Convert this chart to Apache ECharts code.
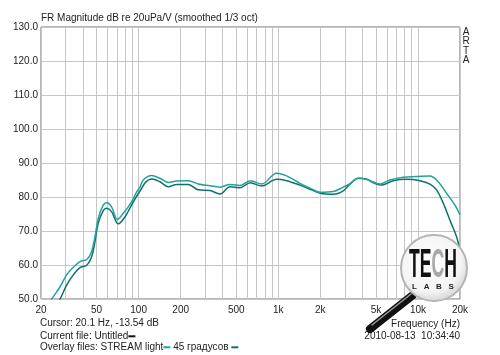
<!DOCTYPE html>
<html><head><meta charset="utf-8">
<script src="https://cdn.jsdelivr.net/npm/echarts/dist/echarts.min.js"></script>
<style>html,body{margin:0;padding:0;background:#fff}#c{width:500px;height:355px}</style>
</head><body><div id="c"></div>
<script>
// STREAM light (on-axis)
const lightFreq = [20, 22, 24, 27.4, 30.5, 34, 38, 42.7, 46, 48.7, 51.4, 55.8, 59, 64, 70.6, 77.6, 87, 97, 102, 108, 124, 142, 163, 187, 227, 267, 324, 382, 451, 531, 630, 760, 973, 1148, 1429, 1686, 2000, 2474, 2917, 3258, 3737, 4290, 4786, 5344, 6300, 7840, 9780, 12190, 13960, 16030, 18390, 20000];
const lightDb   = [45, 47.3, 50.1, 53.6, 57.1, 59.3, 61, 61.7, 63.9, 68.3, 73.7, 77.6, 78.3, 77.1, 73.4, 75.2, 77.9, 81.5, 82.8, 85, 86.3, 85.5, 84.3, 84.7, 84.8, 83.8, 83.3, 82.9, 83.7, 83.4, 84.8, 83.8, 87, 86.2, 84, 82.6, 81.4, 81.6, 82.9, 83.9, 85.5, 85.2, 84.4, 83.8, 85, 85.8, 86, 86.2, 84.5, 81.1, 77.6, 74.7];
// 45 градусов
const darkFreq = [20, 25, 27.4, 30.5, 34.1, 38, 42.7, 46.1, 48.7, 51.4, 55.8, 59, 64, 71.5, 80, 91.6, 105, 112, 124, 142, 163, 187, 227, 267, 324, 382, 451, 531, 630, 760, 973, 1148, 1429, 1686, 2000, 2474, 2917, 3258, 3737, 4290, 4920, 5490, 6650, 8300, 10330, 12190, 13590, 15170, 16940, 18900, 20000];
const darkDb   = [42, 47.3, 50, 54.1, 57.1, 59.2, 60, 62.4, 66.9, 72.3, 76, 76.7, 75.7, 72.1, 74.2, 78.6, 82.5, 84.3, 85.3, 84.5, 83, 83.7, 83.7, 82.1, 81.9, 80.9, 83, 82.7, 84.2, 83.2, 85.2, 84.8, 83.5, 82.3, 81.1, 80.8, 81.8, 83.8, 85.5, 85.2, 84, 83.5, 84.8, 85.2, 84.8, 83.8, 82.1, 78.2, 73.2, 68.3, 64];
const xLabelFreqs = [20, 50, 100, 200, 500, 1000, 2000, 5000, 10000, 20000];
const xGridFreqs = [20, 30, 40, 50, 60, 70, 80, 90, 100, 200, 300, 400, 500, 600, 700, 800, 900, 1000, 2000, 3000, 4000, 5000, 6000, 7000, 8000, 9000, 10000, 20000];
const yMin = 50, yMax = 130, yStep = 10;

const L = Math.log10;
function fmtF(v) {
  const f = Math.round(Math.pow(10, v));
  return f >= 1000 ? (f / 1000) + 'k' : String(f);
}
const FONT = 'Liberation Sans, Arial, sans-serif';
const TXT = '#222';
const cLight = '#22a29d', cDark = '#0f716c';

const chart = echarts.init(document.getElementById('c'), null, {renderer: 'canvas'});
function t(text, x, y, align, extra) {
  return Object.assign({type: 'text', z: 100, style: Object.assign({
    text: text, x: x, y: y, fill: TXT, font: '10px ' + FONT,
    align: align || 'left', verticalAlign: 'middle',
    textAlign: align || 'left', textVerticalAlign: 'middle'
  }, extra || {})});
}
const graphics = [
  t('FR Magnitude dB re 20uPa/V (smoothed 1/3 oct)', 41, 18),
  t('A', 466, 32, 'center'), t('R', 466, 41.5, 'center'), t('T', 466, 51, 'center'), t('A', 466, 60.5, 'center'),
  t('Cursor: 20.1 Hz, -13.54 dB', 40, 323.5),
  t('Current file: Untitled{k|}', 40, 336.3, 'left', {rich: {k: {width: 7, height: 2, backgroundColor: '#111', verticalAlign: 'middle'}}}),
  t('Overlay files: STREAM light{a|} 45 градусов {b|}', 40, 347.3, 'left', {rich: {
    a: {width: 7, height: 2, backgroundColor: cLight, verticalAlign: 'middle'},
    b: {width: 7, height: 2, backgroundColor: cDark, verticalAlign: 'middle'}}}),
  t('Frequency (Hz)', 460, 324, 'right'),
  t('2010-08-13  10:34:40', 460, 336.5, 'right'),
  // magnifier logo
  {type: 'line', z: 101, shape: {x1: 413, y1: 295, x2: 370, y2: 329}, style: {stroke: '#111', lineWidth: 8, lineCap: 'round'}},
  {type: 'line', z: 102, shape: {x1: 411, y1: 294, x2: 372, y2: 325}, style: {stroke: '#9a9a9a', lineWidth: 1.5, lineCap: 'round'}},
  {type: 'circle', z: 103, shape: {cx: 434, cy: 268, r: 33}, style: {
    fill: {type: 'radial', x: 0.45, y: 0.4, r: 0.6, colorStops: [{offset: 0, color: '#ffffff'}, {offset: 0.75, color: '#f4f4f4'}, {offset: 1, color: '#d6d6d6'}]},
    stroke: '#b5b5b5', lineWidth: 2}},
  {type: 'text', z: 104, x: 433, y: 266, scaleX: 0.44, style: {
    text: '{k|TE}{g|C}{k|H}', x: 0, y: 0, align: 'center', verticalAlign: 'middle', textAlign: 'center', textVerticalAlign: 'middle',
    rich: {k: {font: 'bold 40px ' + FONT, fill: '#111'}, g: {font: 'bold 40px ' + FONT, fill: '#a8a8a8'}}}},
  {type: 'text', z: 104, style: {text: 'L   A   B   S', x: 433, y: 287, fill: '#222', font: 'bold 8px ' + FONT, align: 'center', verticalAlign: 'middle', textAlign: 'center', textVerticalAlign: 'middle'}}
];

chart.setOption({
  animation: false,
  backgroundColor: '#fff',
  grid: {left: 41, top: 27, width: 419, height: 272, show: true, borderColor: '#6e6e6e', borderWidth: 1, backgroundColor: 'transparent'},
  xAxis: {
    type: 'value', min: L(xLabelFreqs[0]), max: L(xLabelFreqs[xLabelFreqs.length - 1]),
    axisLine: {show: false},
    axisTick: {show: false, customValues: xGridFreqs.map(L)},
    splitLine: {show: true, lineStyle: {color: '#c6c6c6', width: 1}},
    axisLabel: {customValues: xLabelFreqs.map(L), formatter: fmtF, color: TXT, fontSize: 10, fontFamily: FONT, margin: 6}
  },
  yAxis: {
    type: 'value', min: yMin, max: yMax, interval: yStep,
    axisLine: {show: false}, axisTick: {show: false},
    splitLine: {show: true, lineStyle: {color: '#c6c6c6', width: 1}},
    axisLabel: {formatter: v => v.toFixed(1), color: TXT, fontSize: 10, fontFamily: FONT, margin: 3}
  },
  series: [
    {name: '45 градусов', type: 'line', data: darkFreq.map((f, i) => [L(f), darkDb[i]]), showSymbol: false, smooth: 0.35, clip: true, lineStyle: {color: cDark, width: 1.5}},
    {name: 'STREAM light', type: 'line', data: lightFreq.map((f, i) => [L(f), lightDb[i]]), showSymbol: false, smooth: 0.35, clip: true, lineStyle: {color: cLight, width: 1.5}}
  ],
  graphic: graphics
});
</script></body></html>
